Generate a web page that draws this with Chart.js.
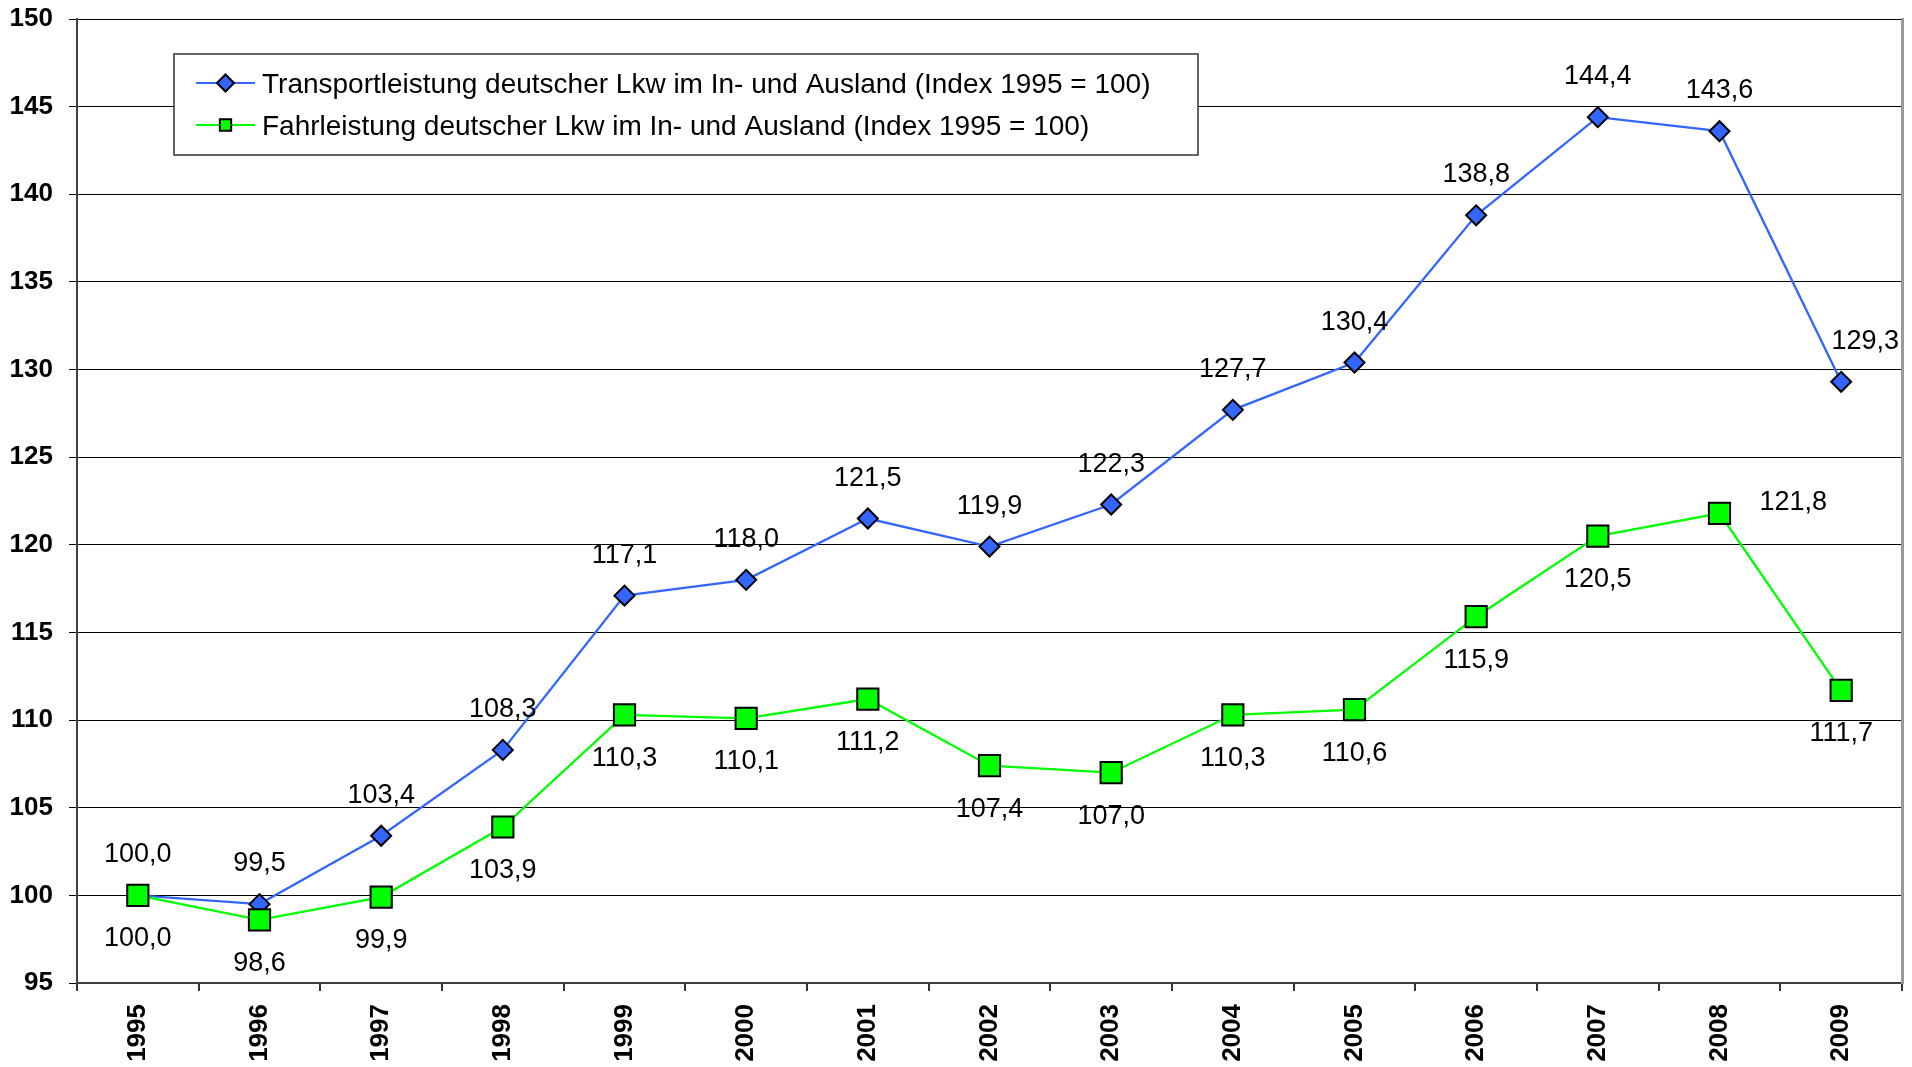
<!DOCTYPE html>
<html>
<head>
<meta charset="utf-8">
<script src="https://cdn.jsdelivr.net/npm/chart.js@4.4.0/dist/chart.umd.min.js"></script>
<style>
html,body{margin:0;padding:0;background:#fff;}
#wrap{width:1912px;height:1067px;position:relative;}
</style>
</head>
<body>
<div id="wrap"><canvas id="c" width="1912" height="1067"></canvas></div>
<script>
// ---- data ----
const years = ['1995','1996','1997','1998','1999','2000','2001','2002','2003','2004','2005','2006','2007','2008','2009'];
const transportIndex = [100.0, 99.5, 103.4, 108.3, 117.1, 118.0, 121.5, 119.9, 122.3, 127.7, 130.4, 138.8, 144.4, 143.6, 129.3];
const fahrIndex = [100.0, 98.6, 99.9, 103.9, 110.3, 110.1, 111.2, 107.4, 107.0, 110.3, 110.6, 115.9, 120.5, 121.8, 111.7];
const seriesNames = [
  'Transportleistung deutscher Lkw im In- und Ausland (Index 1995 = 100)',
  'Fahrleistung deutscher Lkw im In- und Ausland (Index 1995 = 100)'
];
const yMin = 95, yMax = 150, yStep = 5;

const FONT = "'Liberation Sans', Arial, Helvetica, sans-serif";
Chart.defaults.font.family = FONT;
Chart.defaults.color = '#000';

const fmt = v => v.toFixed(1).replace('.', ',');

const valueLabels = {
  id: 'valueLabels',
  afterDatasetsDraw(chart, args, opts) {
    const ctx = chart.ctx;
    ctx.save();
    ctx.font = opts.font;
    ctx.fillStyle = '#000';
    ctx.textBaseline = 'alphabetic';
    chart.data.datasets.forEach((ds, di) => {
      const meta = chart.getDatasetMeta(di);
      const place = opts.placement[di];
      meta.data.forEach((pt, i) => {
        const p = (place.overrides && place.overrides[i]) || place;
        ctx.textAlign = p.align || 'center';
        ctx.fillText(fmt(ds.data[i]), pt.x + (p.dx || 0), pt.y + p.dy);
      });
    });
    ctx.restore();
  }
};

const boxLegend = {
  id: 'boxLegend',
  afterDraw(chart, args, o) {
    const ctx = chart.ctx, a = chart.chartArea;
    const x0 = a.left + o.dx, y0 = a.top + o.dy;
    ctx.save();
    ctx.fillStyle = '#fff';
    ctx.fillRect(x0, y0, o.width, o.height);
    ctx.strokeStyle = '#333';
    ctx.lineWidth = 1.5;
    ctx.strokeRect(x0, y0, o.width, o.height);
    chart.data.datasets.forEach((ds, i) => {
      const cy = y0 + o.firstRow + i * o.rowGap;
      ctx.strokeStyle = ds.borderColor;
      ctx.lineWidth = 2;
      ctx.beginPath();
      ctx.moveTo(x0 + o.lineStart, cy);
      ctx.lineTo(x0 + o.lineStart + o.lineLen, cy);
      ctx.stroke();
      ctx.fillStyle = ds.pointBackgroundColor;
      ctx.strokeStyle = ds.pointBorderColor;
      ctx.lineWidth = 2;
      Chart.helpers.drawPoint(ctx, {pointStyle: ds.pointStyle, radius: o.markerRadius[i], rotation: 0, borderWidth: 2}, x0 + o.lineStart + o.lineLen / 2, cy);
      ctx.fillStyle = '#000';
      ctx.font = o.font;
      ctx.textAlign = 'left';
      ctx.textBaseline = 'alphabetic';
      ctx.fillText(ds.label, x0 + o.textX, cy + o.baseOff);
    });
    ctx.restore();
  }
};

function noPad(s) { s.paddingTop = 0; s.paddingBottom = 0; s.paddingLeft = 0; s.paddingRight = 0; }

new Chart(document.getElementById('c'), {
  type: 'line',
  data: {
    labels: years,
    datasets: [
      {
        label: seriesNames[0],
        data: transportIndex,
        borderColor: '#3366FF',
        borderWidth: 2.3,
        pointStyle: 'rectRot',
        pointRadius: 10,
        pointBackgroundColor: '#3366FF',
        pointBorderColor: '#000',
        pointBorderWidth: 2,
        tension: 0,
        order: 2,
        clip: false
      },
      {
        label: seriesNames[1],
        data: fahrIndex,
        borderColor: '#00FF00',
        borderWidth: 2.3,
        pointStyle: 'rect',
        pointRadius: 15,
        pointBackgroundColor: '#00FF00',
        pointBorderColor: '#000',
        pointBorderWidth: 2,
        tension: 0,
        order: 1,
        clip: false
      }
    ]
  },
  options: {
    responsive: false,
    animation: false,
    devicePixelRatio: 1,
    layout: { autoPadding: false, padding: { left: 0, top: 19, right: 0, bottom: 0 } },
    plugins: {
      legend: { display: false },
      tooltip: { enabled: false },
      valueLabels: {
        font: "27px " + FONT,
        placement: [
          { dy: -33, overrides: { 14: { dx: 24, dy: -33 } } },
          { dy: 51, overrides: { 13: { dx: 40, dy: -3, align: 'left' } } }
        ]
      },
      boxLegend: {
        dx: 97, dy: 35, width: 1024, height: 101,
        firstRow: 29, rowGap: 42, baseOff: 10,
        lineStart: 22, lineLen: 59, textX: 88,
        markerRadius: [8.5, 8],
        font: "28px " + FONT
      }
    },
    scales: {
      x: {
        type: 'category',
        offset: true,
        grid: { offset: true, drawOnChartArea: false, drawTicks: true, tickLength: 8, color: '#333', lineWidth: 2 },
        border: { display: true, color: '#404040', width: 2 },
        ticks: { minRotation: 90, maxRotation: 90, autoSkip: false, padding: 13, font: { size: 26, weight: 'bold' }, color: '#000' },
        afterFit(s) { s.height = 84; noPad(s); }
      },
      y: {
        min: yMin, max: yMax,
        grid: { color: '#000', lineWidth: 1, tickLength: 8, drawTicks: true },
        border: { display: true, color: '#404040', width: 2 },
        ticks: { stepSize: yStep, padding: 16, font: { size: 26, weight: 'bold' }, color: '#000' },
        afterFit(s) { s.width = 77; noPad(s); }
      },
      y2: {
        position: 'right',
        display: true,
        grid: { drawOnChartArea: false, drawTicks: false },
        border: { display: true, color: '#999', width: 3 },
        ticks: { display: false },
        afterFit(s) { s.width = 10; noPad(s); }
      }
    }
  },
  plugins: [valueLabels, boxLegend]
});
</script>
</body>
</html>
